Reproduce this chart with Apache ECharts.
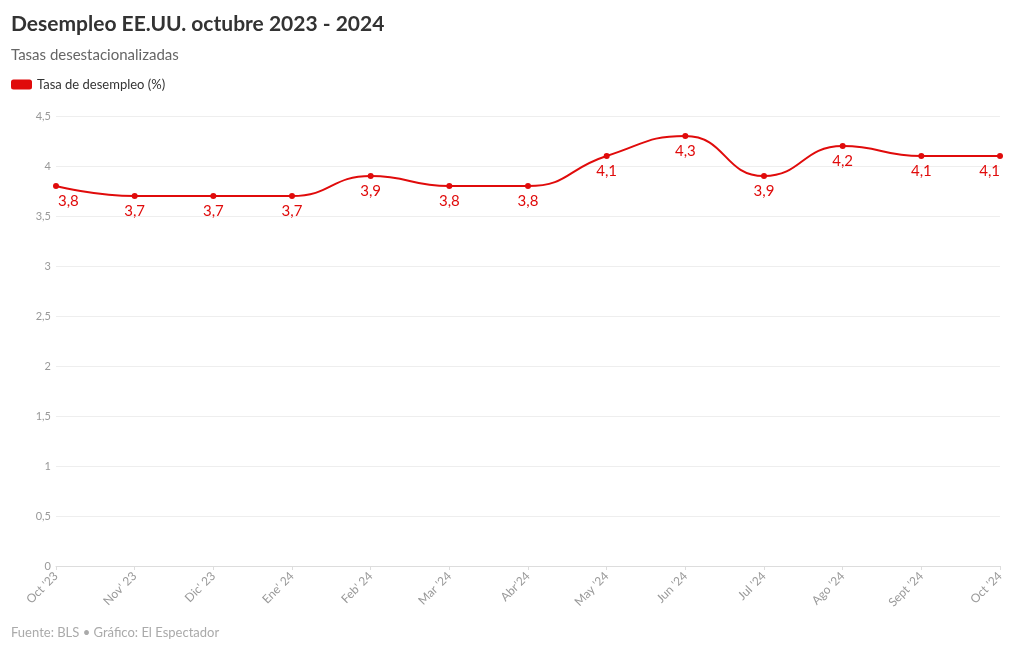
<!DOCTYPE html>
<html><head><meta charset="utf-8">
<script src="https://cdn.jsdelivr.net/npm/echarts@6/dist/echarts.min.js"></script>
<style>html,body{margin:0;padding:0;background:#fff}#c{width:1020px;height:650px}</style>
</head><body><div id="c"></div>
<script>
const categories = ["Oct '23","Nov' 23","Dic' 23","Ene' 24","Feb' 24","Mar '24","Abr'24","May '24","Jun '24","Jul '24","Ago '24","Sept '24","Oct '24"];
const values = [3.8,3.7,3.7,3.7,3.9,3.8,3.8,4.1,4.3,3.9,4.2,4.1,4.1];
const yTicks = [0,0.5,1,1.5,2,2.5,3,3.5,4,4.5];
const seriesName = "Tasa de desempleo (%)";
const FONT = "Lato, 'Noto Sans', sans-serif";
const RED = "#e00b0b";
const fmt = v => String(v).replace('.', ',');
const seriesData = values.map((v, i) => {
  const d = {value: v};
  if (i === 0) d.label = {align: 'left', offset: [2, 0]};
  if (i === values.length - 1) d.label = {align: 'right', offset: [0, 0]};
  return d;
});
const chart = echarts.init(document.getElementById('c'));
chart.setOption({
  animation:false,
  textStyle:{fontFamily:FONT},
  title:[
    {text:"Desempleo EE.UU. octubre 2023 - 2024", left:11, top:14, padding:0, textStyle:{fontFamily:FONT, fontSize:21, fontWeight:'bold', color:'#333'}},
    {text:"Tasas desestacionalizadas", left:11, top:48, padding:0, textStyle:{fontFamily:FONT, fontSize:15, fontWeight:'normal', color:'#666'}},
    {text:"Fuente: BLS • Gráfico: El Espectador", left:11, top:626, padding:0, textStyle:{fontFamily:FONT, fontSize:13, fontWeight:'normal', color:'#aaa'}}
  ],
  legend:{left:11, top:78, padding:0, itemWidth:21, itemHeight:10, icon:'roundRect', itemGap:6,
    textStyle:{fontFamily:FONT, fontSize:13, color:'#333'}, data:[{name:seriesName, itemStyle:{color:RED}}]},
  grid:{left:56, right:20, top:116, bottom:84, containLabel:false},
  xAxis:{type:'category', data:categories, boundaryGap:false,
    axisLine:{lineStyle:{color:'#ddd'}}, axisTick:{show:true, length:4, lineStyle:{color:'#ddd'}},
    axisLabel:{rotate:45, color:'#999', fontSize:12, fontFamily:FONT, margin:8, interval:0}},
  yAxis:{type:'value', min:0, max:4.5, interval:0.5,
    axisLine:{show:false}, axisTick:{show:false},
    splitLine:{lineStyle:{color:'#eee'}},
    axisLabel:{color:'#999', fontSize:11, fontFamily:FONT, margin:5, formatter:v=>yTicks.includes(v)?fmt(v):''}},
  series:[{name:seriesName, type:'line', data:seriesData, smooth:0.5, symbol:'circle', symbolSize:6,
    lineStyle:{color:RED, width:2}, itemStyle:{color:RED},
    label:{show:true, position:'bottom', distance:5, color:RED, fontSize:15, fontFamily:FONT, formatter:p=>fmt(p.value)}}]
});
</script></body></html>
